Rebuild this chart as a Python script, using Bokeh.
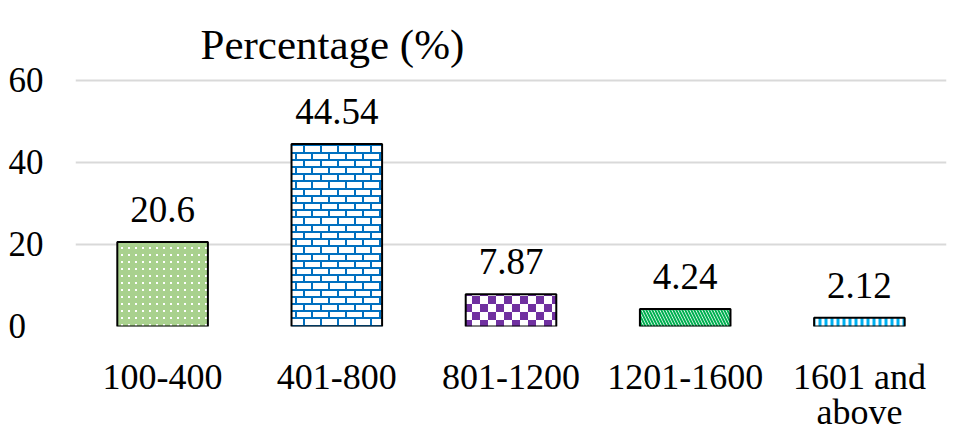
from bokeh.plotting import figure
from bokeh.models import (ColumnDataSource, LabelSet, FixedTicker, Range1d, FactorRange,
                          CanvasTexture, CategoricalAxis, CustomJSTickFormatter)
from bokeh.core.properties import value
from bokeh.embed import file_html
from bokeh.resources import INLINE

# ---- data ----
categories = ["100-400", "401-800", "801-1200", "1201-1600", "1601 and above"]
percentages = [20.6, 44.54, 7.87, 4.24, 2.12]
value_labels = ["20.6", "44.54", "7.87", "4.24", "2.12"]
x_label_line1 = ["100-400", "401-800", "801-1200", "1201-1600", "1601 and"]
x_label_line2 = ["", "", "", "", "above"]
y_ticks = [0, 20, 40, 60]

# ---- styles ----
fill_colors = ["#a9d18e", "#ffffff", "#ffffff", "#ffffff", "#ffffff"]
hatch_patterns = ["speckle", "brick", "checker", "left_diagonal_line", "vertical_line"]
hatch_colors = ["#ffffff", "#0070c0", "#7030a0", "#00b050", "#00b0f0"]
hatch_scales = [7, 101, 16, 6, 6]
hatch_weights = [2, 2, 1, 2, 3]

FONT = "Liberation Serif"

speckle = CanvasTexture(code="""
const s = 7;
ctx.canvas.width = s; ctx.canvas.height = s;
ctx.fillStyle = "#ffffff";
ctx.fillRect(2, 2, 2, 2);
""")
brick = CanvasTexture(code="""
const s = 101, n = 14, m = 6;
ctx.canvas.width = s; ctx.canvas.height = s;
const h = s / n, w = s / m;
ctx.fillStyle = "#0070c0";
for (let r = 0; r < n; r++) {
  const y = Math.round(r * h);
  ctx.fillRect(0, y, s, 2);
  for (let i = 0; i <= m; i++) {
    const x = Math.round(i * w + (r % 2) * w / 2);
    ctx.fillRect(x, y, 2, Math.round(h) + 1);
  }
}
""")
checker = CanvasTexture(code="""
const s = 16, a = 8;
ctx.canvas.width = s; ctx.canvas.height = s;
ctx.fillStyle = "#7030a0";
ctx.fillRect(0, 0, a, a);
ctx.fillRect(a, a, a, a);
""")

src = ColumnDataSource(dict(
    cat=categories, val=percentages, lbl=value_labels,
    fill=fill_colors, pat=hatch_patterns, hcol=hatch_colors,
    hscale=hatch_scales, hweight=hatch_weights,
))

p = figure(
    x_range=FactorRange(*categories), y_range=Range1d(0, 61),
    width=956, height=435,
    output_backend="svg", toolbar_location=None,
    min_border_left=75, min_border_right=10, min_border_top=76, min_border_bottom=109,
)

p.vbar(
    x="cat", top="val", width=0.52, source=src,
    fill_color="fill", line_color="black", line_width=2,
    hatch_pattern="pat", hatch_color="hcol", hatch_scale="hscale", hatch_weight="hweight",
    hatch_extra={"speckle": speckle, "brick": brick, "checker": checker},
)

labels = LabelSet(
    x="cat", y="val", text="lbl", source=src, y_offset=20,
    text_align="center", text_baseline="alphabetic",
    text_font=value(FONT), text_font_size="37px", text_color="black",
)
p.add_layout(labels)

p.title.text = "Percentage (%)"
p.title.align = "left"
p.title.offset = 125
p.title.text_font = FONT
p.title.text_font_size = "43px"
p.title.text_font_style = "normal"
p.title.text_color = "black"
p.title.standoff = 18

p.yaxis.ticker = FixedTicker(ticks=y_ticks)
p.yaxis.major_label_overrides = {0: "0\u00a0\u00a0"}

p.xaxis.formatter = CustomJSTickFormatter(
    args=dict(lines=dict(zip(categories, x_label_line1))), code="return lines[tick];")
xaxis2 = CategoricalAxis(formatter=CustomJSTickFormatter(
    args=dict(lines=dict(zip(categories, x_label_line2))), code="return lines[tick];"))
p.add_layout(xaxis2, "below")

for ax in (p.xaxis[0], xaxis2, p.yaxis[0]):
    ax.axis_line_color = None
    ax.major_tick_line_color = None
    ax.minor_tick_line_color = None
    ax.major_tick_out = 0
    ax.major_tick_in = 0
    ax.minor_tick_out = 0
    ax.minor_tick_in = 0
    ax.major_label_text_font = FONT
    ax.major_label_text_color = "black"

p.yaxis.major_label_text_font_size = "35px"
p.yaxis.major_label_standoff = 32
p.xaxis[0].major_label_text_font_size = "36px"
p.xaxis[0].major_label_text_line_height = 1.0
p.xaxis[0].major_label_standoff = 30
xaxis2.major_label_text_font_size = "36px"
xaxis2.major_label_text_line_height = 1.16
xaxis2.major_label_standoff = -8

p.xgrid.grid_line_color = None
p.ygrid.grid_line_color = "#d9d9d9"
p.ygrid.grid_line_width = 2
p.outline_line_color = None

open("out.html", "w").write(file_html(p, INLINE))
